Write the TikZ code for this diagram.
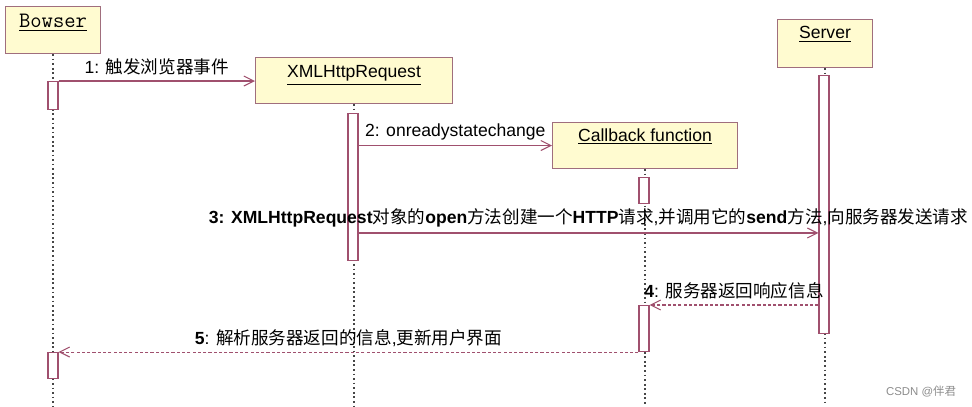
\documentclass[tikz,border=0pt]{standalone}
\usepackage{fontspec}
\setmainfont{Liberation Sans}
\newfontfamily\cjk{Noto Sans CJK SC}
\newcommand{\zh}[1]{{\cjk #1}}
\usetikzlibrary{arrows.meta}
\definecolor{boxfill}{RGB}{255,251,208}
\definecolor{boxline}{RGB}{160,110,125}
\definecolor{msgline}{RGB}{160,80,110}
\definecolor{lifegray}{RGB}{70,70,70}

\begin{document}
\begin{tikzpicture}
		[x=0.02cm, y=-0.02cm, font=\fontsize{10}{12}\selectfont,
		object/.style		= {rectangle,draw=boxline,fill=boxfill,line width=0.6pt,anchor=north west,inner sep=0pt},
		title/.style		= {anchor=base,inner sep=0pt},
		activation/.style	= {rectangle,draw=msgline,fill=white,line width=0.6pt,anchor=north,minimum width=0.2cm,inner sep=0pt},
		lifeline/.style		= {draw=lifegray,line width=0.8pt,dash pattern=on 1pt off 1.6pt},
		call/.style			= {->, draw=msgline, line width=0.6pt},
		reply/.style		= {->, draw=msgline, line width=0.6pt, dash pattern=on 1.8pt off 1.2pt},
		msg/.style			= {midway, above=2pt, inner sep=1pt, text=black},
		>={Straight Barb[length=2mm,width=2mm]}]
		
		\useasboundingbox (0,0) rectangle (972,406);
		\coordinate (bottom) at (0,406);
		
		% objects
		\node at (5,6)		[object, minimum width=1.9cm, minimum height=0.94cm]	(bowser)	{};
		\node at (255,57)	[object, minimum width=3.94cm, minimum height=0.92cm]	(xhr)		{};
		\node at (552,122)	[object, minimum width=3.7cm, minimum height=0.92cm]	(cb)		{};
		\node at (777,19)	[object, minimum width=1.9cm, minimum height=0.96cm]	(srv)		{};
		
		\node at ([yshift=-0.44cm]bowser.north)	[title]	(bowsername)	{\ttfamily\fontsize{12.5}{14}\selectfont\underline{Bowser}};
		\node at ([yshift=-0.42cm]xhr.north)	[title]	(xhrname)		{\underline{XMLHttpRequest}};
		\node at ([yshift=-0.38cm]cb.north)		[title]	(cbname)		{\underline{Callback function}};
		\node at ([yshift=-0.40cm]srv.north)	[title]	(srvname)		{\underline{Server}};
		
		% lifelines
		\draw [lifeline] (bowser.south) -- (bowser.south |- bottom);
		\draw [lifeline] (xhr.south) -- (xhr.south |- bottom);
		\draw [lifeline] (cb.south) -- (cb.south |- bottom);
		\draw [lifeline] (srv.south) -- (srv.south |- bottom);
		
		% activations
		\node at (53,81)	[activation, minimum height=0.56cm]	(bact1)	{};
		\node at (53,352)	[activation, minimum height=0.52cm]	(bact2)	{};
		\node at (353,113)	[activation, minimum height=2.94cm]	(xact)	{};
		\node at (644,177)	[activation, minimum height=0.52cm]	(cact1)	{};
		\node at (644,305)	[activation, minimum height=0.92cm]	(cact2)	{};
		\node at (824,75)	[activation, minimum height=5.16cm]	(sact)	{};
		
		\coordinate (m3) at ([yshift=-2.4cm]xact.north east);
		
		% messages
		\draw [call] (bact1.north east) -- (bact1.north east -| xhr.west)
			node[msg] (msg1) {1: \zh{触发浏览器事件}};
		\draw [call] (cb.west -| xact.east) -- (cb.west)
			node[msg] (msg2) {2: onreadystatechange};
		\draw [call] (m3) -- (m3 -| sact.west)
			node[msg] (msg3) {\textbf{3: XMLHttpRequest}\zh{对象的}\textbf{open}\zh{方法创建一个}\textbf{HTTP}\zh{请求},\zh{并调用它的}\textbf{send}\zh{方法},\zh{向服务器发送请求}};
		\draw [reply] (cact2.north east -| sact.west) -- (cact2.north east)
			node[msg] (msg4) {\textbf{4}: \zh{服务器返回响应信息}};
		\draw [reply] (cact2.south west) -- (cact2.south west -| bact2.east)
			node[msg] (msg5) {\textbf{5}: \zh{解析服务器返回的信息},\zh{更新用户界面}};
		
		\node at (921,391) [text=black!45, font=\fontsize{6.5}{8}\selectfont] (csdn) {CSDN @\zh{伴君}};
		
		\end{tikzpicture}
\end{document}
